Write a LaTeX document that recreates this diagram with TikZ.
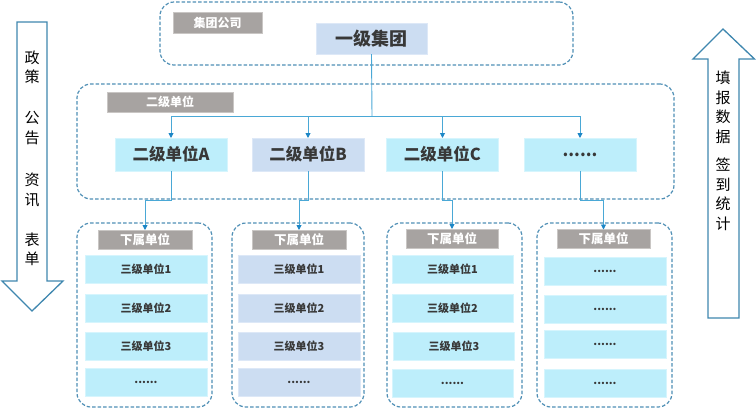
\documentclass[tikz,border=0pt]{standalone}
\usepackage{fontspec}
\setmainfont{Noto Sans CJK SC}
\usetikzlibrary{arrows.meta}
\definecolor{dashc}{HTML}{4F8FB5}
\definecolor{grayf}{HTML}{A7A3A1}
\definecolor{grayd}{HTML}{C9C6C4}
\definecolor{cyanf}{HTML}{BDEEFB}
\definecolor{cyand}{HTML}{D6F5FD}
\definecolor{bluef}{HTML}{CCDDF2}
\definecolor{blued}{HTML}{DDE8F7}
\definecolor{txt}{HTML}{383838}
\definecolor{connc}{HTML}{4AA8D6}
\definecolor{tipc}{HTML}{1C86C6}
\definecolor{arrc}{HTML}{3F87AF}
\newcommand\fsTop{\bfseries\fontsize{18}{20}\selectfont}
\newcommand\fsTwo{\bfseries\fontsize{16.5}{18}\selectfont}
\newcommand\fsThree{\bfseries\fontsize{11}{12}\selectfont}
\newcommand\fsLab{\bfseries\fontsize{12}{13}\selectfont}
\newcommand\fsSub{\bfseries\fontsize{12.5}{13}\selectfont}
\newcommand\fsSide{\fontsize{15}{19.5}\selectfont}
\begin{document}
\begin{tikzpicture}[x=1pt,y=-1pt,
  container/.style={draw=dashc, line width=1.2pt, dash pattern=on 3.5pt off 2pt, rounded corners=14pt, inner sep=0pt, outer sep=0pt},
  graylabel/.style={fill=grayf, draw=grayd, line width=0.8pt, text=white, inner sep=0pt, outer sep=0pt},
  cyanbox/.style={fill=cyanf, draw=cyand, line width=0.8pt, text=txt, inner sep=0pt, outer sep=0pt},
  bluebox/.style={fill=bluef, draw=blued, line width=0.8pt, text=txt, inner sep=0pt, outer sep=0pt},
  lvtwo/.style={minimum width=112pt, minimum height=33pt, font=\fsTwo},
  lvthree/.style={minimum width=122pt, minimum height=28pt, font=\fsThree},
  sublabel/.style={graylabel, minimum width=94pt, minimum height=19pt, font=\fsSub},
  col/.style={container, minimum width=135pt, minimum height=184pt},
  conn/.style={draw=connc, line width=0.9pt},
  tipped/.style={-{Triangle[width=5pt,length=5pt,color=tipc]}},
  bigarrow/.style={draw=arrc, fill=white, line width=1.3pt, line join=miter},
  sidetext/.style={font=\fsSide, align=center, inner sep=0pt, text=black}
]
\useasboundingbox (0,0) rectangle (756,408);

% side arrows
\draw[bigarrow] (17,22) -- (47,22) -- (47,281) -- (63,281) -- (32,311) -- (2,281) -- (17,281) -- cycle;
\draw[bigarrow] (708,318) -- (739,318) -- (739,59) -- (754.5,59) -- (723,29) -- (693,59) -- (708,59) -- cycle;
\node[sidetext] (s1) at (32,67.5) {政\\策};
\node[sidetext] (s2) at (32,128) {公\\告};
\node[sidetext] (s3) at (32,190) {资\\讯};
\node[sidetext] (s4) at (32,249.5) {表\\单};
\node[sidetext] (r1) at (723,107.5) {填\\报\\数\\据};
\node[sidetext] (r2) at (723,194.5) {签\\到\\统\\计};

% containers
\node[container, minimum width=413pt, minimum height=63pt] (c1) at (366.5,33.5) {};
\node[container, minimum width=597pt, minimum height=115pt] (c2) at (375.5,141.5) {};
\node[col] (k1) at (144.5,315) {};
\node[col, minimum width=132pt] (k2) at (298,315) {};
\node[col] (k3) at (454.5,315) {};
\node[col] (k4) at (604.5,315) {};

% top level
\node[graylabel, minimum width=89pt, minimum height=21pt, font=\fsLab] (gl1) at (217.5,22.5) {集团公司};
\node[bluebox, minimum width=111pt, minimum height=31pt, font=\fsTop] (top) at (371.5,38.5) {一级集团};

% second level
\node[graylabel, minimum width=126pt, minimum height=20pt, font=\fsLab] (gl2) at (170,102) {二级单位};
\node[cyanbox, lvtwo] (A) at (171,154.5) {二级单位A};
\node[bluebox, lvtwo] (B) at (308,154.5) {二级单位B};
\node[cyanbox, lvtwo] (C) at (442.5,154.5) {二级单位C};
\node[cyanbox, lvtwo] (D) at (580,154.5) {......};

% sub labels
\node[sublabel] (L1) at (145,239.5) {下属单位};
\node[sublabel] (L2) at (299,239.5) {下属单位};
\node[sublabel, minimum width=92pt] (L3) at (452,238.5) {下属单位};
\node[sublabel, minimum width=93pt] (L4) at (603.5,239) {下属单位};

% third level
\node[cyanbox, lvthree] (a1) at (146,269) {三级单位1};
\node[cyanbox, lvthree] (a2) at (146,308) {三级单位2};
\node[cyanbox, lvthree] (a3) at (146,346.5) {三级单位3};
\node[cyanbox, lvthree] (a4) at (146,382.5) {......};
\node[bluebox, lvthree] (b1) at (299,269) {三级单位1};
\node[bluebox, lvthree] (b2) at (299,308) {三级单位2};
\node[bluebox, lvthree] (b3) at (299,346.5) {三级单位3};
\node[bluebox, lvthree] (b4) at (299,382.5) {......};
\node[cyanbox, lvthree, minimum width=121pt] (e1) at (452.5,269) {三级单位1};
\node[cyanbox, lvthree, minimum width=121pt] (e2) at (452.5,308) {三级单位2};
\node[cyanbox, lvthree, minimum width=121pt] (e3) at (454,346.5) {三级单位3};
\node[cyanbox, lvthree, minimum width=121pt] (e4) at (452.5,383.5) {......};
\node[cyanbox, lvthree] (f1) at (605,271) {......};
\node[cyanbox, lvthree] (f2) at (605,309.5) {......};
\node[cyanbox, lvthree] (f3) at (605,344.5) {......};
\node[cyanbox, lvthree] (f4) at (605,383.5) {......};

% connectors
\coordinate (bus) at (372,116);
\coordinate (mid) at (0,200);
\draw[conn] (top.south) -- (bus);
\draw[conn] (A.north |- bus) -- (D.north |- bus);
\foreach \n in {A,B,C,D} \draw[conn,tipped] (\n.north |- bus) -- (\n.north);
\draw[conn,tipped] (A.south) -- (A.south |- mid) -| (L1.north);
\draw[conn,tipped] (B.south) -- (B.south |- mid) -| (L2.north);
\draw[conn,tipped] (C.south) -- (C.south |- mid) -| (L3.north);
\draw[conn,tipped] (D.south) -- (D.south |- mid) -| (L4.north);
\end{tikzpicture}
\end{document}
